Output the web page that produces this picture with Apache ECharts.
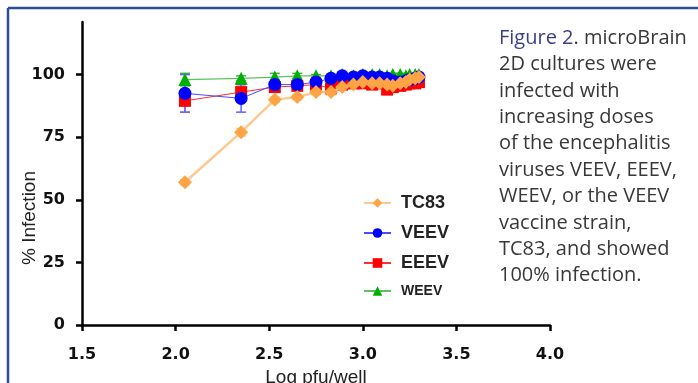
<!DOCTYPE html>
<html>
<head>
<meta charset="utf-8">
<script src="https://cdn.jsdelivr.net/npm/echarts@6/dist/echarts.min.js"></script>
<style>
html,body{margin:0;padding:0;background:#fff;}
#chart{width:698px;height:383px;}
</style>
</head>
<body>
<div id="chart"></div>
<script>
// ---- data ----
var logDose = [2.05, 2.35, 2.53, 2.65, 2.75, 2.83, 2.89, 2.95, 3.00, 3.05, 3.09, 3.13, 3.16, 3.20, 3.23, 3.25, 3.28, 3.30];
var tc83 = [57, 77, 90, 91, 93, 93, 95, 96, 97, 96.5, 96.5, 96, 95.5, 96.5, 97, 98, 98.5, 99];
var veev = [92.5, 90.5, 96, 96, 97, 98.5, 99.5, 99, 99.5, 99, 99, 98.5, 97.5, 97, 97.5, 98, 98.5, 99];
var eeev = [89.5, 93, 95, 95.5, 96, 94.5, 96, 96.5, 96.5, 96, 96.5, 94, 95, 95.5, 96, 96.5, 96.5, 97];
var weev = [98, 98.5, 99, 99.5, 99.5, 99.5, 100, 99.5, 100, 100, 100, 99.5, 100, 100, 99.5, 100, 100, 100];
var tc83Err = [1, 1.5, 1, 1, 1, 1, 1, 1, 1, 1, 1, 1, 1, 1, 1, 1, 1, 1];
var veevErr = [7.5, 5.5, 2, 1.5, 1, 1, 1, 1, 1, 1, 1, 1, 1, 1.5, 1, 1, 1, 1];
var eeevErr = [4.5, 3, 2, 1, 1, 2, 1, 1, 1, 1, 1, 1.5, 1, 1, 1, 1, 1, 1];
var weevErr = [2.5, 1, 1.5, 1, 0.5, 0.5, 0.5, 0.5, 0.5, 0.5, 0.5, 0.5, 0.5, 0.5, 0.5, 0.5, 0.5, 0.5];
var yTicks = [0, 25, 50, 75, 100];
var seriesNames = ['TC83', 'VEEV', 'EEEV', 'WEEV'];
var captionLines = [
  'microBrain',
  '2D cultures were',
  'infected with',
  'increasing doses',
  'of the encephalitis',
  'viruses VEEV, EEEV,',
  'WEEV, or the VEEV',
  'vaccine strain,',
  'TC83, and showed',
  '100% infection.'
];
var xAxisTitle = 'Log pfu/well';
var yAxisTitle = '% Infection';

// ---- build ----
function pairs(ys) { return logDose.map(function (x, i) { return [x, ys[i]]; }); }
function errData(ys, es) { return logDose.map(function (x, i) { return [x, ys[i] - es[i], ys[i] + es[i]]; }); }
function errRender(color) {
  return function (params, api) {
    var x = api.value(0), lo = api.value(1), hi = api.value(2);
    var p1 = api.coord([x, hi]), p2 = api.coord([x, lo]);
    var w = 5;
    var st = { stroke: color, lineWidth: 1.5 };
    return { type: 'group', children: [
      { type: 'line', shape: { x1: p1[0], y1: p1[1], x2: p2[0], y2: p2[1] }, style: st },
      { type: 'line', shape: { x1: p1[0] - w, y1: p1[1], x2: p1[0] + w, y2: p1[1] }, style: st },
      { type: 'line', shape: { x1: p2[0] - w, y1: p2[1], x2: p2[0] + w, y2: p2[1] }, style: st }
    ]};
  };
}
function errSeries(name, ys, es, color, z) {
  return { name: name + ' SD', type: 'custom', renderItem: errRender(color),
    data: errData(ys, es), encode: { x: 0, y: [1, 2] }, z: z, silent: true };
}

var graphics = [
  { type: 'line', shape: { x1: 8, y1: 8, x2: 698, y2: 8 }, style: { stroke: '#2d4c99', lineWidth: 2.5 } },
  { type: 'line', shape: { x1: 8, y1: 8, x2: 8, y2: 383 }, style: { stroke: '#2d4c99', lineWidth: 2.5 } },
  { type: 'text', x: 30, y: 218, rotation: Math.PI / 2,
    style: { text: yAxisTitle, align: 'center', verticalAlign: 'middle',
      font: '19px "Liberation Sans"', fill: '#222' } }
];
captionLines.forEach(function (t, i) {
  var txt = i === 0 ? '{a|Figure 2}{b|. ' + t + '}' : '{b|' + t + '}';
  graphics.push({
    type: 'text', left: 499, top: 28 + i * 26.4,
    style: {
      text: txt,
      rich: {
        a: { fontFamily: 'Open Sans', fontSize: 20, fill: '#3c3f86', lineHeight: 24 },
        b: { fontFamily: 'Open Sans', fontSize: 20, fill: '#383838', lineHeight: 24 }
      }
    }
  });
});

var chart = echarts.init(document.getElementById('chart'), null, { renderer: 'canvas' });
chart.setOption({
  animation: false,
  backgroundColor: '#fff',
  grid: { left: 82, right: 148, top: 22, bottom: 58, containLabel: false, outerBoundsMode: 'none' },
  xAxis: {
    type: 'value', min: 1.5, max: 4.0, interval: 0.5,
    name: xAxisTitle, nameLocation: 'middle', nameGap: 37,
    nameTextStyle: { fontFamily: 'Liberation Sans', fontSize: 19, color: '#222' },
    axisLine: { lineStyle: { color: '#000', width: 2.5 } },
    axisTick: { length: 6, lineStyle: { color: '#000', width: 2.5 } },
    axisLabel: { margin: 22, fontFamily: 'DejaVu Sans', fontWeight: 'bold', fontSize: 16, color: '#111',
      formatter: function (v) { return v.toFixed(1); } },
    splitLine: { show: false }
  },
  yAxis: {
    type: 'value', min: 0, max: 121, interval: 25,
    axisLine: { show: true, lineStyle: { color: '#000', width: 2.5 } },
    axisTick: { show: true, length: 6, customValues: yTicks, lineStyle: { color: '#000', width: 2.5 } },
    axisLabel: { margin: 17, customValues: yTicks, fontFamily: 'DejaVu Sans', fontWeight: 'bold', fontSize: 16, color: '#111' },
    splitLine: { show: false }
  },
  legend: {
    data: seriesNames, orient: 'vertical', left: 363, top: 194, padding: 0,
    itemWidth: 27, itemHeight: 12, itemGap: 12,
    formatter: function (n) { return n === 'WEEV' ? '{s|' + n + '}' : '{b|' + n + '}'; },
    textStyle: {
      padding: [0, 0, 0, 5],
      rich: {
        b: { fontFamily: 'Liberation Sans', fontWeight: 'bold', fontSize: 18, color: '#222', lineHeight: 18 },
        s: { fontFamily: 'Liberation Sans', fontWeight: 'bold', fontSize: 14, color: '#222', lineHeight: 18 }
      }
    }
  },
  graphic: graphics,
  series: [
    errSeries('WEEV', weev, weevErr, '#40b040', 1),
    errSeries('EEEV', eeev, eeevErr, '#ff8080', 2),
    errSeries('VEEV', veev, veevErr, '#6060ff', 3),
    errSeries('TC83', tc83, tc83Err, '#ffc080', 4),
    { name: 'WEEV', type: 'line', data: pairs(weev), symbol: 'triangle', symbolSize: 13, z: 5,
      itemStyle: { color: '#00b000' }, lineStyle: { color: '#60c060', width: 1.2 } },
    { name: 'EEEV', type: 'line', data: pairs(eeev), symbol: 'rect', symbolSize: 12, z: 6,
      itemStyle: { color: '#ff0000' }, lineStyle: { color: '#ff3030', width: 1 } },
    { name: 'VEEV', type: 'line', data: pairs(veev), symbol: 'circle', symbolSize: 13, z: 7,
      itemStyle: { color: '#0000ff' }, lineStyle: { color: '#4a4aff', width: 1 } },
    { name: 'TC83', type: 'line', data: pairs(tc83), symbol: 'diamond', symbolSize: 14, z: 8,
      itemStyle: { color: '#ffa445' }, lineStyle: { color: '#ffc88f', width: 2.5 } }
  ]
});
</script>
</body>
</html>
